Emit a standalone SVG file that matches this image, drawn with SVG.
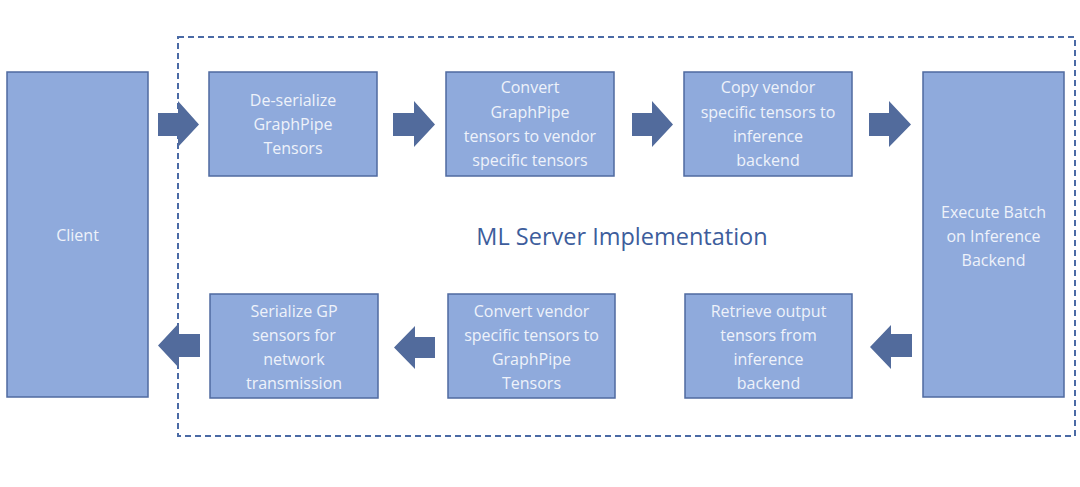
<svg xmlns="http://www.w3.org/2000/svg" width="1080" height="487" viewBox="0 0 1080 487">
<style>
.box{fill:#8faadc;stroke:#4f6aa0;stroke-width:1.5}
.t{font-family:"Open Sans","Liberation Sans",Arial,sans-serif;font-size:16px;fill:#eef2fa;text-anchor:middle}
.arr{fill:#526b9c}
.title{font-family:"Open Sans","Liberation Sans",sans-serif;font-size:23.5px;fill:#3d5d9c;text-anchor:middle}
</style>
<rect width="1080" height="487" fill="#ffffff"/>
<rect x="178" y="37" width="897" height="399" fill="none" stroke="#4a6aa5" stroke-width="2" stroke-dasharray="6 4"/>
<text class="title" x="622" y="245">ML Server Implementation</text>
<g id="client"><rect class="box" x="7" y="72" width="141" height="325"/><text class="t" x="77.5" y="241">Client</text></g>
<g id="deser"><rect class="box" x="209" y="72" width="168" height="104"/><text class="t" x="293" y="105.5">De-serialize</text><text class="t" x="293" y="129.5">GraphPipe</text><text class="t" x="293" y="153.5">Tensors</text></g>
<g id="convert1"><rect class="box" x="446" y="72" width="168" height="104"/><text class="t" x="530" y="93">Convert</text><text class="t" x="530" y="117.5">GraphPipe</text><text class="t" x="530" y="141.5">tensors to vendor</text><text class="t" x="530" y="165.5">specific tensors</text></g>
<g id="copy"><rect class="box" x="684" y="72" width="168" height="104"/><text class="t" x="768" y="93">Copy vendor</text><text class="t" x="768" y="117.5">specific tensors to</text><text class="t" x="768" y="141.5">inference</text><text class="t" x="768" y="165.5">backend</text></g>
<g id="execute"><rect class="box" x="923" y="72" width="141" height="325"/><text class="t" x="993.5" y="217.5">Execute Batch</text><text class="t" x="993.5" y="241.5">on Inference</text><text class="t" x="993.5" y="265.5">Backend</text></g>
<g id="retrieve"><rect class="box" x="685" y="294" width="167" height="104"/><text class="t" x="768.5" y="316.5">Retrieve output</text><text class="t" x="768.5" y="340.5">tensors from</text><text class="t" x="768.5" y="364.5">inference</text><text class="t" x="768.5" y="388.5">backend</text></g>
<g id="convert2"><rect class="box" x="448" y="294" width="167" height="104"/><text class="t" x="531.5" y="316.5">Convert vendor</text><text class="t" x="531.5" y="340.5">specific tensors to</text><text class="t" x="531.5" y="364.5">GraphPipe</text><text class="t" x="531.5" y="388.5">Tensors</text></g>
<g id="serialize"><rect class="box" x="210" y="294" width="168" height="104"/><text class="t" x="294" y="316.5">Serialize GP</text><text class="t" x="294" y="340.5">sensors for</text><text class="t" x="294" y="364.5">network</text><text class="t" x="294" y="388.5">transmission</text></g>
<g id="connectors">
<path class="arr" d="M158 113H178V101L199 124.5L178 147V136H158Z"/>
<path class="arr" d="M393 113H414V101L435 124.5L414 147V136H393Z"/>
<path class="arr" d="M632 113H652V101L673 124.5L652 147V136H632Z"/>
<path class="arr" d="M869 113H889V101L911 124.5L889 147V136H869Z"/>
<path class="arr" d="M912 334H891V325L870 347L891 369V357H912Z"/>
<path class="arr" d="M435 337H415V326L394 347.5L415 369V358H435Z"/>
<path class="arr" d="M200 334H179V323L158 345.5L179 368V357H200Z"/>
</g>
</svg>
